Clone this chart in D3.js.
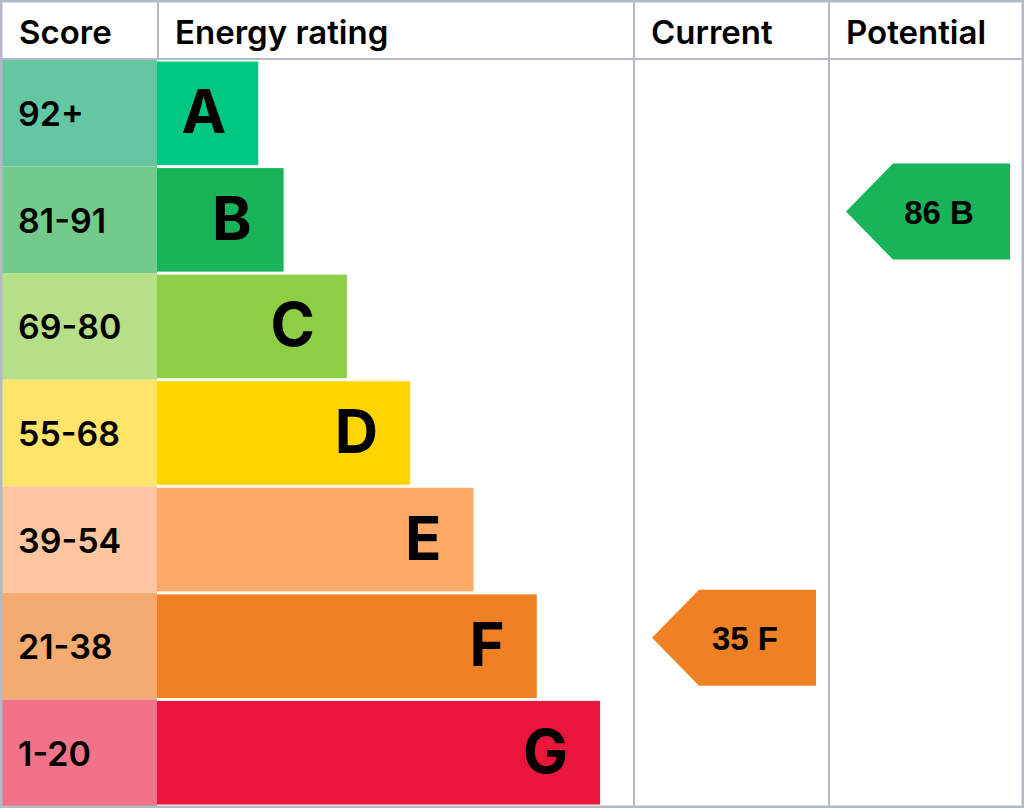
<!DOCTYPE html>
<html>
<head>
<meta charset="utf-8">
<script src="https://cdn.jsdelivr.net/npm/d3@7"></script>
<style>
  html, body { margin: 0; padding: 0; background: #fff; }
  svg { display: block; }
</style>
</head>
<body>
<div id="chart"></div>
<script>
// --- data ---
const bands = ['A', 'B', 'C', 'D', 'E', 'F', 'G']
const scoreRanges = ['92+', '81-91', '69-80', '55-68', '39-54', '21-38', '1-20']
const barLengths = [0.16, 0.2, 0.3, 0.4, 0.5, 0.6, 0.7]
const bandColors = ['#00c781', '#19b459', '#8dce46', '#ffd500', '#fcaa65', '#ef8023', '#e9153b']
const scoreColors = ['#64c7a4', '#73cb8b', '#b6df88', '#ffe46a', '#fec69e', '#f4ab72', '#f1738a']
const headers = ['Score', 'Energy rating', 'Current', 'Potential']
const ratings = [
  {column: 'Current', score: 35, band: 'F'},
  {column: 'Potential', score: 86, band: 'B'}
]

const width = 1024
const height = 808
const headerH = 59
const gridColor = '#b3b9c5'
const font = 'Inter, "Open Sans", sans-serif'

const colX = d3.scaleOrdinal()
  .domain(headers)
  .range([0, 157, 633, 828])
const colEnd = {'Score': 157, 'Energy rating': 633, 'Current': 828, 'Potential': 1022}

const y = d3.scaleBand()
  .domain(bands)
  .range([headerH + 1, height - 2])

const x = d3.scaleLinear()
  .domain([0, 1])
  .range([157, 157 + 633])

const svg = d3.select('#chart').append('svg')
  .attr('width', width)
  .attr('height', height)
  .attr('viewBox', [0, 0, width, height])

// --- score cells ---
svg.append('g').selectAll('rect')
  .data(bands)
  .join('rect')
    .attr('x', 0)
    .attr('y', d => y(d))
    .attr('width', 157)
    .attr('height', y.bandwidth())
    .attr('fill', (d, i) => scoreColors[i])

svg.append('g').selectAll('text')
  .data(bands)
  .join('text')
    .attr('x', 18)
    .attr('y', d => y(d) + y.bandwidth() / 2 + 13)
    .attr('font-family', font)
    .attr('font-size', 34)
    .attr('font-weight', 600)
    .attr('fill', '#000')
    .text((d, i) => scoreRanges[i])

// --- rating bars ---
svg.append('g').selectAll('rect')
  .data(bands)
  .join('rect')
    .attr('x', x(0))
    .attr('y', d => y(d) + 1.5)
    .attr('width', (d, i) => x(barLengths[i]) - x(0))
    .attr('height', y.bandwidth() - 3)
    .attr('fill', (d, i) => bandColors[i])

svg.append('g').selectAll('text')
  .data(bands)
  .join('text')
    .attr('x', (d, i) => x(barLengths[i]) - 32)
    .attr('y', d => y(d) + y.bandwidth() / 2 + 20)
    .attr('text-anchor', 'end')
    .attr('font-family', font)
    .attr('font-size', 60)
    .attr('font-weight', 700)
    .attr('fill', '#000')
    .text(d => d)

// --- grid ---
const grid = svg.append('g')
  .attr('stroke', gridColor)
  .attr('stroke-width', 2)
  .attr('fill', 'none')

grid.append('line')
  .attr('x1', 0).attr('x2', width)
  .attr('y1', headerH).attr('y2', headerH)

grid.selectAll('line.col')
  .data(headers.slice(1))
  .join('line')
    .attr('class', 'col')
    .attr('x1', d => colX(d) + 1).attr('x2', d => colX(d) + 1)
    .attr('y1', 0).attr('y2', d => d === 'Energy rating' ? headerH : height)

grid.append('rect')
  .attr('x', 1).attr('y', 1)
  .attr('width', width - 2).attr('height', height - 2)
  .attr('stroke-width', 3)

// --- headers ---
svg.append('g').selectAll('text')
  .data(headers)
  .join('text')
    .attr('x', d => colX(d) + (d === 'Score' ? 19 : 18))
    .attr('y', 44)
    .attr('font-family', font)
    .attr('font-size', 33)
    .attr('font-weight', 600)
    .attr('fill', '#000')
    .text(d => d)

// --- arrows ---
const arrowW = 164
const arrowH = 96
const slant = 47

const arrows = svg.append('g').selectAll('g')
  .data(ratings)
  .join('g')
    .attr('transform', d => `translate(${colEnd[d.column] - 12 - arrowW},${y(d.band) - 3})`)

arrows.append('path')
  .attr('d', `M0,${arrowH / 2}L${slant},0H${arrowW}V${arrowH}H${slant}Z`)
  .attr('fill', d => bandColors[bands.indexOf(d.band)])

arrows.append('text')
  .attr('x', 93)
  .attr('y', arrowH / 2 + 12)
  .attr('text-anchor', 'middle')
  .attr('font-family', '"Liberation Sans", Arial, sans-serif')
  .attr('font-size', 33)
  .attr('font-weight', 700)
  .attr('fill', '#000')
  .text(d => d.score + ' ' + d.band)
</script>
</body>
</html>
